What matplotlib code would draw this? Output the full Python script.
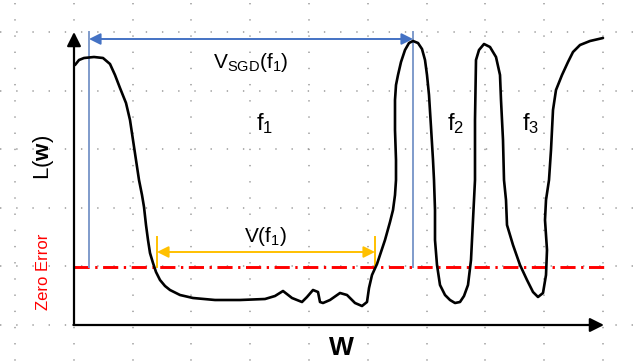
"""Schematic: loss landscape L(w) with flat minimum f1 and sharp minima f2, f3."""

import matplotlib

matplotlib.use("Agg")
import matplotlib.pyplot as plt

plt.rcParams["font.family"] = ["Liberation Sans", "DejaVu Sans"]
plt.rcParams["mathtext.fontset"] = "custom"
plt.rcParams["mathtext.rm"] = "Liberation Sans"
plt.rcParams["mathtext.it"] = "Liberation Sans"
plt.rcParams["mathtext.bf"] = "Liberation Sans:bold"

# hand-drawn loss curve (w, L)
curve_w = [1, 5, 10, 20, 29, 36, 41, 46, 52, 56, 59, 62, 65, 68, 70, 72, 74, 76,
           79, 82, 86, 91, 96, 106, 119, 141, 166, 191, 201, 209, 218, 228, 233,
           239, 244, 246, 249, 256, 266, 273, 281, 288, 293, 295, 298, 303, 311,
           316, 319, 321, 322, 322, 321, 321, 322, 324, 327, 331, 335, 339, 344,
           348, 351, 353, 355, 357, 359, 360, 361, 361, 363, 366, 371, 376, 381,
           386, 390, 394, 397, 399, 401, 401, 402, 405, 410, 416, 422, 426, 427,
           429, 430, 432, 433, 439, 446, 453, 459, 464, 469, 472, 473, 471, 472,
           475, 477, 479, 482, 488, 494, 499, 506, 516, 529]
curve_L = [260, 265, 267, 268, 267, 261, 250, 237, 222, 205, 185, 165, 145, 130,
           118, 100, 85, 72, 62, 53, 45, 39, 35, 30, 27, 25, 25, 26, 29, 34, 27,
           23, 28, 35, 33, 23, 22, 25, 32, 30, 22, 19, 23, 37, 50, 61, 85, 103,
           115, 130, 145, 165, 195, 225, 240, 250, 263, 275, 282, 284, 282, 276,
           265, 250, 230, 198, 165, 145, 115, 85, 60, 40, 30, 25, 22, 23, 29, 40,
           65, 105, 145, 205, 265, 275, 281, 278, 268, 250, 225, 185, 145, 125,
           100, 80, 60, 45, 33, 28, 32, 50, 75, 105, 125, 145, 175, 215, 235, 250,
           263, 273, 280, 284, 287]

zero_error = 58
axis_top = 293
axis_right = 530
sgd_span = (15, 339)
sgd_arrow_L = 286
flat_span = (83, 301)
flat_arrow_L = 73
flat_tick_top = 88

minima_labels = [r"$\mathrm{f_1}$", r"$\mathrm{f_2}$", r"$\mathrm{f_3}$"]
minima_w = [191, 382, 457]
minima_L = 201

BLUE = "#4472C4"
BLUE_LIGHT = "#7F9BCB"
GOLD = "#FFC000"
RED = "#FF0000"

fig = plt.figure(figsize=(6.36, 3.62), dpi=100)

# dotted background grid (pixel coordinates)
bg = fig.add_axes([0, 0, 1, 1])
bg.set_xlim(0, 636)
bg.set_ylim(362, 0)
bg.axis("off")
dot = (0, (0.9, 9.7))
for i in range(11):
    x = 15 + 58.8 * i
    bg.plot([x, x], [2.7, 362], color="#9a9a9a", lw=1.1, ls=dot)
for j in range(6):
    y = 32 + 58.6 * j
    bg.plot([0.3, 636], [y, y], color="#9a9a9a", lw=1.1, ls=dot)

ax = fig.add_axes([0, 0, 1, 1])
ax.set_xlim(-74, 562)
ax.set_ylim(-37, 325)
ax.axis("off")
ax.patch.set_alpha(0)

head = dict(shrinkA=0, shrinkB=0)
# axes with arrows
ax.annotate("", xy=(0, axis_top), xytext=(0, 0),
            arrowprops=dict(arrowstyle="-|>", color="black", lw=1.6,
                            mutation_scale=21, **head))
ax.annotate("", xy=(axis_right, 0), xytext=(-0.6, 0),
            arrowprops=dict(arrowstyle="-|>", color="black", lw=1.6,
                            mutation_scale=21, **head))

# zero error line
ax.plot([0, axis_right], [zero_error, zero_error], color=RED, lw=2.1,
        ls=(0, (5.2, 1.9, 0.8, 1.9)))

# SGD span
for w in sgd_span:
    ax.plot([w, w], [zero_error, axis_top], color=BLUE_LIGHT, lw=1.4)
ax.annotate("", xy=(sgd_span[0], sgd_arrow_L), xytext=(sgd_span[1], sgd_arrow_L),
            arrowprops=dict(arrowstyle="<|-|>", color=BLUE, lw=1.4,
                            mutation_scale=17, **head))
ax.text(177, 263, r"$\mathrm{V_{SGD}(f_1)}$", fontsize=15, ha="center",
        va="center")

# flat region span
for w in flat_span:
    ax.plot([w, w], [zero_error, flat_tick_top], color=GOLD, lw=1.4)
ax.annotate("", xy=(flat_span[0], flat_arrow_L), xytext=(flat_span[1], flat_arrow_L),
            arrowprops=dict(arrowstyle="<|-|>", color=GOLD, lw=1.4,
                            mutation_scale=17, **head))
ax.text(192, 88, r"$\mathrm{V(f_1)}$", fontsize=15, ha="center", va="center")

# loss curve
ax.plot(curve_w, curve_L, color="black", lw=1.9, solid_capstyle="round",
        solid_joinstyle="round")

for lab, w in zip(minima_labels, minima_w):
    ax.text(w, minima_L, lab, fontsize=17, ha="center", va="center")

ax.text(-31, 168, r"$\mathrm{L(\mathbf{w})}$", fontsize=16, rotation=90,
        ha="center", va="center")
ax.text(-31, 53, "Zero Error", fontsize=12, color=RED, rotation=90,
        ha="center", va="center")
ax.text(267, -30, "W", fontsize=19, fontweight="bold", ha="center",
        va="baseline")

fig.savefig("out.png", dpi=100)
